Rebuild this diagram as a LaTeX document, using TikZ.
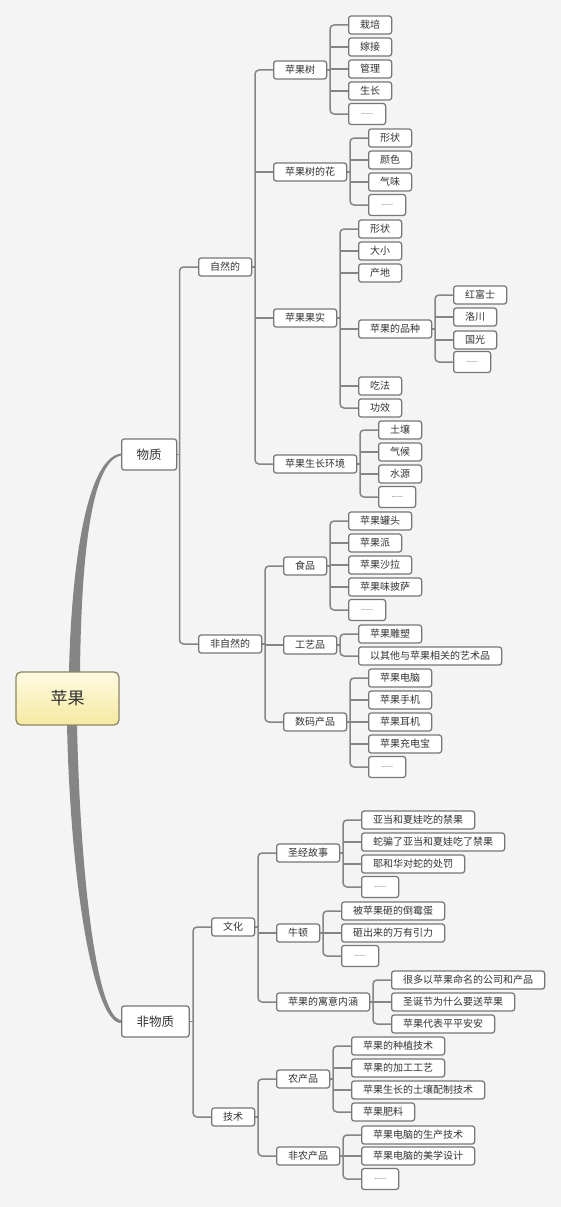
\documentclass[tikz,border=0pt]{standalone}
\usepackage{fontspec}
\setmainfont{Noto Sans CJK SC}
\newfontfamily\latinf{Liberation Sans}
\usetikzlibrary{calc,backgrounds}
\definecolor{bg}{HTML}{F4F4F4}
\definecolor{linec}{HTML}{858585}
\definecolor{boxc}{HTML}{777777}
\definecolor{txt}{HTML}{333333}
\definecolor{rootb}{HTML}{8C8766}
\definecolor{roottop}{HTML}{FEFBE4}
\definecolor{rootbot}{HTML}{F6E9A0}
\newcommand\mmtree[4]{%
  \coordinate (#1-b) at (#2,0);
  \draw[conn] (#1.east) -- (#1-b |- #1.east);
  \draw[conn,rounded corners=4pt] (#3.west) -| (#1-b |- #1.east) |- (#4.west);
}
\newcommand\mmmid[2]{%
  \foreach \c in {#2} {\draw[conn] (#1-b |- \c.west) -- (\c.west);}%
}
\begin{document}
\begin{tikzpicture}[x=1pt,y=-1pt,
  conn/.style={draw=linec, line width=1.5pt},
  box/.style={draw=boxc, line width=1.25pt, fill=white, rounded corners=2.5pt,
    font=\fontsize{10}{12}\selectfont, text=txt, inner xsep=11.5pt, inner ysep=0pt,
    minimum height=18pt, anchor=west},
  dotbox/.style={box, minimum width=37pt, minimum height=21pt, font=\latinf\fontsize{7}{8}\selectfont},
  lvlone/.style={box, font=\fontsize{12.5}{14}\selectfont, inner xsep=15pt, minimum height=31pt},
]
\useasboundingbox (0,0) rectangle (561,1207);
% root and level 1
\node[draw=rootb, line width=1.3pt, rounded corners=5pt, top color=roottop, bottom color=rootbot,
  minimum width=103pt, minimum height=53pt, text=txt, font=\fontsize{17}{20}\selectfont]
  (root) at (67.5,698.5) {苹果};
\node[lvlone] (wz) at (121,454.5) {物质};
\node[lvlone] (fwz) at (121,1021.5) {非物质};
% level 2
\node[box] (zr) at (198,267) {自然的};
\node[box] (fzr) at (198,644) {非自然的};
\node[box] (wh) at (211,927) {文化};
\node[box] (js) at (211,1117) {技术};
% under 自然的
\node[box] (s) at (273,70) {苹果树};
\node[box] (h) at (273,172) {苹果树的花};
\node[box] (g) at (273,318) {苹果果实};
\node[box] (e) at (273,464) {苹果生长环境};
\node[box] (s1) at (348,25) {栽培};
\node[box] (s2) at (348,47) {嫁接};
\node[box] (s3) at (348,69) {管理};
\node[box] (s4) at (348,91) {生长};
\node[dotbox] (s5) at (348,114) {......};
\node[box] (h1) at (368,138) {形状};
\node[box] (h2) at (368,160) {颜色};
\node[box] (h3) at (368,182) {气味};
\node[dotbox] (h4) at (368,205) {......};
\node[box] (g1) at (358,229) {形状};
\node[box] (g2) at (358,251) {大小};
\node[box] (g3) at (358,273) {产地};
\node[box] (g4) at (358,329) {苹果的品种};
\node[box] (g5) at (358,386) {吃法};
\node[box] (g6) at (358,408) {功效};
\node[box] (v1) at (453,295) {红富士};
\node[box] (v2) at (453,317) {洛川};
\node[box] (v3) at (453,340) {国光};
\node[dotbox] (v4) at (453,362) {......};
\node[box] (e1) at (378,430) {土壤};
\node[box] (e2) at (378,452) {气候};
\node[box] (e3) at (378,474) {水源};
\node[dotbox] (e4) at (378,497) {......};
% under 非自然的
\node[box] (f) at (283,566) {食品};
\node[box] (c) at (283,645) {工艺品};
\node[box] (d) at (283,722) {数码产品};
\node[box] (f1) at (348,521) {苹果罐头};
\node[box] (f2) at (348,543) {苹果派};
\node[box] (f3) at (348,565) {苹果沙拉};
\node[box] (f4) at (348,587) {苹果味披萨};
\node[dotbox] (f5) at (348,610) {......};
\node[box] (c1) at (358,634) {苹果雕塑};
\node[box] (c2) at (358,656) {以其他与苹果相关的艺术品};
\node[box] (d1) at (368,678) {苹果电脑};
\node[box] (d2) at (368,700) {苹果手机};
\node[box] (d3) at (368,722) {苹果耳机};
\node[box] (d4) at (368,744) {苹果充电宝};
\node[dotbox] (d5) at (368,767) {......};
% under 文化
\node[box] (b) at (276,853) {圣经故事};
\node[box] (n) at (276,933) {牛顿};
\node[box] (yy) at (276,1002) {苹果的寓意内涵};
\node[box] (b1) at (361,820) {亚当和夏娃吃的禁果};
\node[box] (b2) at (361,842) {蛇骗了亚当和夏娃吃了禁果};
\node[box] (b3) at (361,864) {耶和华对蛇的处罚};
\node[dotbox] (b4) at (361,887) {......};
\node[box] (n1) at (341,911) {被苹果砸的倒霉蛋};
\node[box] (n2) at (341,933) {砸出来的万有引力};
\node[dotbox] (n3) at (341,956) {......};
\node[box] (y1) at (391,980) {很多以苹果命名的公司和产品};
\node[box] (y2) at (391,1002) {圣诞节为什么要送苹果};
\node[box] (y3) at (391,1024) {苹果代表平平安安};
% under 技术
\node[box] (a) at (276,1079) {农产品};
\node[box] (t) at (276,1156) {非农产品};
\node[box] (a1) at (351,1046) {苹果的种植技术};
\node[box] (a2) at (351,1068) {苹果的加工工艺};
\node[box] (a3) at (351,1090) {苹果生长的土壤配制技术};
\node[box] (a4) at (351,1112) {苹果肥料};
\node[box] (t1) at (361,1135) {苹果电脑的生产技术};
\node[box] (t2) at (361,1156) {苹果电脑的美学设计};
\node[dotbox] (t3) at (361,1179) {......};
% background and main curves
\begin{scope}[on background layer]
\fill[bg] (0,0) rectangle (561,1207);
\fill[linec] ($(root.north)+(1.5,1)$) .. controls ($(root.north)+(3.5,-92)$) and ($(wz.west)+(-37,4)$) .. ($(wz.west)+(0,-1)$)
  -- ($(wz.west)+(0,1)$) .. controls ($(wz.west)+(-33,7)$) and ($(root.north)+(13.5,-92)$) .. ($(root.north)+(12.5,1)$) -- cycle;
\fill[linec] ($(root.south)+(-0.5,-1)$) .. controls ($(root.south)+(3,160)$) and ($(fwz.west)+(-27,2)$) .. ($(fwz.west)+(0,1.5)$)
  -- ($(fwz.west)+(0,-1.5)$) .. controls ($(fwz.west)+(-23,-3)$) and ($(root.south)+(13,160)$) .. ($(root.south)+(9.5,-1)$) -- cycle;
\end{scope}
% brackets
\mmtree{wz}{179.5}{zr}{fzr}
\mmtree{fwz}{193}{wh}{js}
\mmtree{zr}{255}{s}{e}
\mmmid{zr}{h,g}
\mmtree{s}{330}{s1}{s5}
\mmmid{s}{s2,s3,s4}
\mmtree{h}{350}{h1}{h4}
\mmmid{h}{h2,h3}
\mmtree{g}{340}{g1}{g6}
\mmmid{g}{g2,g3,g4,g5}
\mmtree{g4}{435}{v1}{v4}
\mmmid{g4}{v2,v3}
\mmtree{e}{360}{e1}{e4}
\mmmid{e}{e2,e3}
\mmtree{fzr}{265}{f}{d}
\mmmid{fzr}{c}
\mmtree{f}{330}{f1}{f5}
\mmmid{f}{f2,f3,f4}
\mmtree{c}{340}{c1}{c2}
\mmtree{d}{350}{d1}{d5}
\mmmid{d}{d2,d3,d4}
\mmtree{wh}{258}{b}{yy}
\mmmid{wh}{n}
\mmtree{b}{343}{b1}{b4}
\mmmid{b}{b2,b3}
\mmtree{n}{323}{n1}{n3}
\mmmid{n}{n2}
\mmtree{yy}{373}{y1}{y3}
\mmmid{yy}{y2}
\mmtree{js}{258}{a}{t}
\mmtree{a}{333}{a1}{a4}
\mmmid{a}{a2,a3}
\mmtree{t}{343}{t1}{t3}
\mmmid{t}{t2}
\end{tikzpicture}
\end{document}
